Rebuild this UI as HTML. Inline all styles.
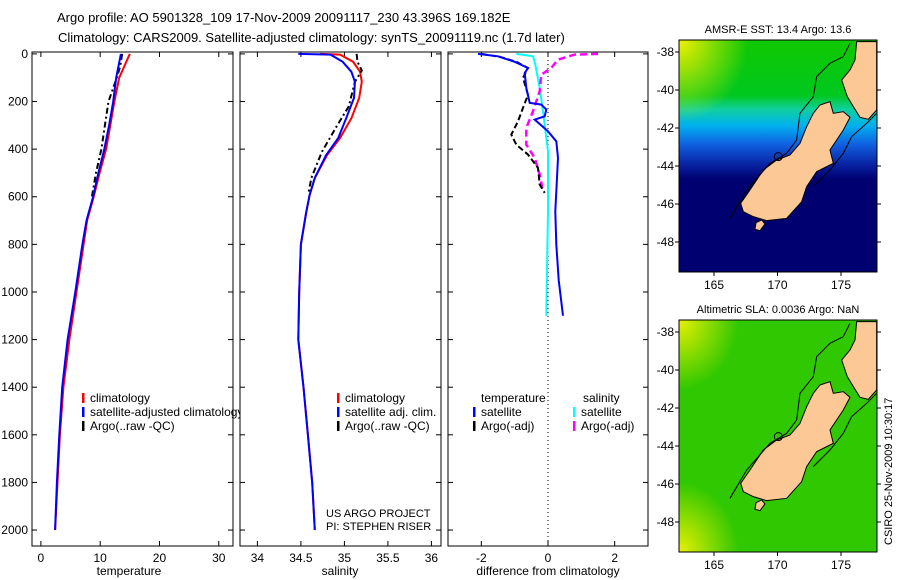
<!DOCTYPE html>
<html><head><meta charset="utf-8">
<style>
body{margin:0;background:#fff;}
svg{display:block;font-family:"Liberation Sans",sans-serif;}
</style></head>
<body>
<svg id="fig" width="900" height="580" viewBox="0 0 900 580">
<defs>
<linearGradient id="sstGrad" x1="0" y1="0" x2="0" y2="1">
<stop offset="0" stop-color="#10c800"/><stop offset="0.24" stop-color="#00c820"/>
<stop offset="0.3" stop-color="#10d0a0"/><stop offset="0.37" stop-color="#00b0f0"/>
<stop offset="0.45" stop-color="#1060e0"/><stop offset="0.54" stop-color="#0820a0"/>
<stop offset="0.6" stop-color="#000070"/><stop offset="1" stop-color="#000070"/>
</linearGradient>
<radialGradient id="yel1" cx="0" cy="0" r="0.35"><stop offset="0" stop-color="#f0f000"/><stop offset="1" stop-color="#f0f000" stop-opacity="0"/></radialGradient>
<radialGradient id="yel2" cx="0" cy="0" r="0.3"><stop offset="0" stop-color="#e8f000"/><stop offset="1" stop-color="#e8f000" stop-opacity="0"/></radialGradient>
<radialGradient id="yel3" cx="0" cy="1" r="0.3"><stop offset="0" stop-color="#e8f000"/><stop offset="1" stop-color="#e8f000" stop-opacity="0"/></radialGradient>
</defs>
<text x="57" y="22" font-size="13">Argo profile: AO 5901328_109 17-Nov-2009 20091117_230 43.396S 169.182E</text>
<text x="58" y="42" font-size="13">Climatology: CARS2009. Satellite-adjusted climatology: synTS_20091119.nc (1.7d later)</text>
<g id="plots"></g>
<g id="maps"></g>
</svg>
<script>
const NS="http://www.w3.org/2000/svg";
const svg=document.getElementById('plots');
function mk(tag,attrs,parent,text){const e=document.createElementNS(NS,tag);for(const k in attrs)e.setAttribute(k,attrs[k]);if(text!==undefined)e.textContent=text;(parent||svg).appendChild(e);return e;}

// ---- data ----
const depthTicks=[0,200,400,600,800,1000,1200,1400,1600,1800,2000];
const tempTicks=[0,10,20,30];
const salTicks=[34,34.5,35,35.5,36];
const salTickLabels=["34","34.5","35","35.5","36"];
const diffTicks=[-2,0,2];
const climDepths=[0,100,200,300,400,500,600,700,800,1000,1200,1400,1600,1800,2000];
const tempClim=[15.0,13.2,12.4,11.7,11.0,9.9,8.9,7.8,7.2,6.0,4.8,3.8,3.2,2.8,2.4];
const tempSat=[13.5,12.7,12.2,11.5,10.7,9.7,8.8,7.7,7.0,5.8,4.5,3.6,3.1,2.7,2.4];
const argoDepths=[0,50,100,200,300,400,500,600];
const tempArgo=[13.7,13.4,12.8,11.4,10.8,10.2,9.3,8.6];
const salDepths=[0,3,33,75,117,185,270,353,425,521,593,668,800,1000,1200,1400,1600,1800,2000];
const salClim=[34.72,34.95,35.1,35.18,35.2,35.17,35.08,34.95,34.8,34.66,34.6,34.56,34.5,34.48,34.47,34.53,34.58,34.63,34.66];
const salSat=[34.47,34.84,34.98,35.08,35.12,35.11,35.02,34.93,34.79,34.66,34.6,34.56,34.5,34.48,34.47,34.53,34.58,34.63,34.66];
const salArgoDepths=[0,33,70,117,220,311,412,521,580];
const salArgo=[35.14,35.15,35.2,35.12,35.05,34.9,34.74,34.62,34.59];
const diffDepths=[0,10,33,59,80,143,206,213,234,262,276,325,367,437,661,800,950,1100];
const dTempSat=[-2.1,-1.5,-1.0,-0.6,-0.7,-0.65,-0.55,-0.2,-0.05,-0.1,-0.4,0,0.25,0.3,0.22,0.25,0.32,0.45];
const cyanDepths=[0,10,45,143,241,353,409,661,900,1100];
const dSalSat=[-0.95,-0.45,-0.38,-0.25,-0.15,-0.05,0,0,-0.03,-0.05];
const dArgoDepths=[0,12,33,59,101,172,227,283,339,381,423,479,549,584];
const dTempArgo=[-2.0,-1.45,-0.95,-0.6,-0.75,-0.6,-0.75,-0.9,-1.1,-0.95,-0.6,-0.3,-0.25,-0.1];
const magDepths=[0,3,24,59,87,157,241,311,381,437,507,577];
const dSalArgo=[1.5,0.8,0.3,0.1,-0.2,-0.25,-0.45,-0.65,-0.65,-0.4,-0.25,-0.15];

const TOP=52,BOT=546;
const yScale=d=>TOP+(d+8)*(BOT-TOP)/2075;
function panel(x0,x1,xmin,xmax,name){
  const xs=v=>x0+(v-xmin)*(x1-x0)/(xmax-xmin);
  const g=mk('g',{});
  
  
  mk('rect',{x:x0,y:TOP,width:x1-x0,height:BOT-TOP,fill:'#fff',stroke:'#000','stroke-width':1},g);
  depthTicks.forEach(d=>{const y=yScale(d);
    mk('line',{x1:x0,x2:x0+5,y1:y,y2:y,stroke:'#000'},g);
    mk('line',{x1:x1-5,x2:x1,y1:y,y2:y,stroke:'#000'},g);});
  return {g,xs};
}
function line(p,xsArr,ds,color,w,dash,nm){
  const pts=xsArr.map((v,i)=>p.xs(v).toFixed(1)+','+yScale(ds[i]).toFixed(1)).join(' ');
  const e=mk('polyline',{points:pts,fill:'none',stroke:color,'stroke-width':w},p.g);
  if(dash)e.setAttribute('stroke-dasharray',dash);
  
  
}
function xticks(p,ticks,labels,title,tx){
  ticks.forEach((t,i)=>{const x=p.xs(t);
    mk('line',{x1:x,x2:x,y1:BOT-5,y2:BOT,stroke:'#000'},p.g);
    mk('line',{x1:x,x2:x,y1:TOP,y2:TOP+5,stroke:'#000'},p.g);
    const e=mk('text',{x:x,y:BOT+16,'font-size':12,'text-anchor':'middle'},p.g,labels[i]);
    
    });
  const t=mk('text',{x:tx,y:575,'font-size':12,'text-anchor':'middle'},p.g,title);
  
  
}
function legend(p,x,y,color,label){
  mk('rect',{x:x,y:y-9,width:2.5,height:10,fill:color},p.g);
  const e=mk('text',{x:x+8,y:y,'font-size':12},p.g,label);
  
  
}

// panel 1 temperature
const p1=panel(32,233,-1.5,32.4,'temperature-panel');
depthTicks.forEach(d=>{const e=mk('text',{x:28,y:yScale(d)+4,'font-size':12,'text-anchor':'end'},p1.g,String(d));
  
  });
xticks(p1,tempTicks,tempTicks.map(String),'temperature',129);
line(p1,tempClim,climDepths,'#f00',2,null,'temp-climatology-line');
line(p1,tempArgo,argoDepths,'#000',2,'6,3,2,3','temp-argo-line');
line(p1,tempSat,climDepths,'#00f',2,null,'temp-satellite-line');
legend(p1,82,402,'#f00','climatology');
legend(p1,82,416,'#00f','satellite-adjusted climatology');
legend(p1,82,430,'#000','Argo(..raw -QC)');

// panel 2 salinity
const p2=panel(240,441,33.8,36.11,'salinity-panel');
xticks(p2,salTicks,salTickLabels,'salinity',340);
line(p2,salClim,salDepths,'#f00',2,null,'sal-climatology-line');
line(p2,salArgo,salArgoDepths,'#000',2,'6,3,2,3','sal-argo-line');
line(p2,salSat,salDepths,'#00f',2,null,'sal-satellite-line');
legend(p2,337,402,'#f00','climatology');
legend(p2,337,416,'#00f','satellite adj. clim.');
legend(p2,337,430,'#000','Argo(..raw -QC)');
mk('text',{x:326,y:517,'font-size':11},p2.g,'US ARGO PROJECT');
mk('text',{x:326,y:530,'font-size':11},p2.g,'PI: STEPHEN RISER');

// panel 3 difference
const p3=panel(448,648,-3.0,3.0,'difference-panel');
xticks(p3,diffTicks,diffTicks.map(String),'difference from climatology',548);
mk('line',{x1:p3.xs(0),x2:p3.xs(0),y1:TOP,y2:BOT,stroke:'#000','stroke-dasharray':'1,3'},p3.g);
line(p3,dSalSat,cyanDepths,'#0ff',2,null,'dsal-satellite-line');
line(p3,dSalArgo,magDepths,'#f0f',2.5,'7,4','dsal-argo-line');
line(p3,dTempArgo,dArgoDepths,'#000',2,'6,3','dtemp-argo-line');
line(p3,dTempSat,diffDepths,'#00f',2,null,'dtemp-satellite-line');
mk('text',{x:481,y:402,'font-size':12},p3.g,'temperature');
mk('text',{x:583,y:402,'font-size':12},p3.g,'salinity');
legend(p3,473,416,'#00f','satellite');
legend(p3,573,416,'#0ff','satellite');
legend(p3,473,430,'#000','Argo(-adj)');
legend(p3,573,430,'#f0f','Argo(-adj)');

// maps
const maps=document.getElementById('maps');
const lonTicks=[165,170,175];
const latTicks=[-38,-40,-42,-44,-46,-48];
const southIsland="450,225 480,215 490,250 520,245 540,262 520,300 500,330 480,360 490,400 440,425 410,470 395,515 350,565 290,572 250,560 220,545 212,520 240,480 280,420 320,390 360,375 390,340 410,290 430,250";
const northIsland="560,35 620,35 620,240 595,268 570,262 555,238 532,200 515,150 540,120 555,90";
const stewart="258,578 275,570 285,582 270,602 255,598";
function map(top,bgId,title,name){
  const x0=679,x1=877,y0=top,y1=top+232;
  const g=mk('g',{},maps);
  
  
  const cp='clip'+top;
  const c=mk('clipPath',{id:cp},g);mk('rect',{x:x0,y:y0,width:x1-x0,height:y1-y0},c);
  const inner=mk('g',{'clip-path':'url(#'+cp+')'},g);
  if(bgId==='sst'){
    mk('rect',{x:x0,y:y0,width:x1-x0,height:y1-y0,fill:'url(#sstGrad)'},inner);
    mk('rect',{x:x0,y:y0,width:x1-x0,height:y1-y0,fill:'url(#yel1)'},inner);
  } else {
    mk('rect',{x:x0,y:y0,width:x1-x0,height:y1-y0,fill:'#30c800'},inner);
    mk('rect',{x:x0,y:y0,width:x1-x0,height:y1-y0,fill:'url(#yel2)'},inner);
    mk('rect',{x:x0,y:y0,width:x1-x0,height:y1-y0,fill:'url(#yel3)'},inner);
  }
  const land=mk('g',{transform:'translate(670,'+(top-10)+') scale(0.3333)'},inner);
  [southIsland,northIsland,stewart].forEach(pts=>mk('polygon',{points:pts,fill:'#fcc896',stroke:'#000','stroke-width':3},land));
  mk('polyline',{points:'180,565 230,480 300,400 350,370 380,330 390,250 430,200 440,140 480,100 520,80 540,40',fill:'none',stroke:'#000','stroke-width':3},land);
  mk('polyline',{points:'430,470 480,420 520,370 545,320 590,280 620,250',fill:'none',stroke:'#000','stroke-width':3},land);
  mk('circle',{cx:325,cy:380,r:12,fill:'none',stroke:'#000','stroke-width':3},land);
  mk('rect',{x:x0,y:y0,width:x1-x0,height:y1-y0,fill:'none',stroke:'#000'},g);
  lonTicks.forEach(l=>{const x=714+(l-165)*12.7;
    mk('line',{x1:x,x2:x,y1:y1,y2:y1+4,stroke:'#000'},g);
    const e=mk('text',{x:x,y:y1+17,'font-size':12,'text-anchor':'middle'},g,String(l));
    
    });
  latTicks.forEach(l=>{const y=top+12+(-38-l)*19;
    mk('line',{x1:x0-4,x2:x0,y1:y,y2:y,stroke:'#000'},g);
    mk('line',{x1:x1,x2:x1+4,y1:y,y2:y,stroke:'#000'},g);
    const e=mk('text',{x:x0-5,y:y+4,'font-size':12,'text-anchor':'end'},g,String(l));
    
    });
  const t=mk('text',{x:778,y:top-7,'font-size':11,'text-anchor':'middle'},g,title);
  
  
}
map(40,'sst','AMSR-E SST: 13.4 Argo: 13.6','sst-map');
map(320,'sla','Altimetric SLA: 0.0036 Argo: NaN','sla-map');
const cs=mk('text',{x:0,y:0,'font-size':11,transform:'translate(892,545) rotate(-90)'},maps,'CSIRO 25-Nov-2009 10:30:17');


</script>
</body></html>
